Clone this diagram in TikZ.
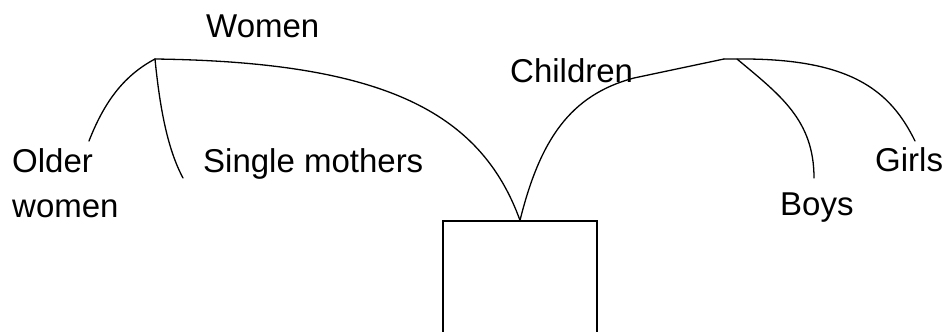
\documentclass[tikz,border=0pt]{standalone}
\usepackage{fontspec}
\setmainfont{Liberation Sans}
\begin{document}
\begin{tikzpicture}[x=1pt,y=-1pt,
  lbl/.style={inner sep=0pt, font=\fontsize{33}{45}\selectfont},
  branch/.style={line width=1.3pt, line cap=round},
  boxstyle/.style={draw, line width=1.3pt, minimum width=154pt, minimum height=179pt, inner sep=0pt}]
\useasboundingbox (0,0) rectangle (948,332);
\clip (0,0) rectangle (948,332);
% labels
\node[lbl, anchor=base west] (women) at (206,37) {Women};
\node[lbl, anchor=north west, align=left] (older) at (12,148) {Older\\women};
\node[lbl, anchor=base west] (single) at (203,172) {Single mothers};
\node[lbl, anchor=base west] (children) at (510,82) {Children};
\node[lbl, anchor=base west] (boys) at (780,215) {Boys};
\node[lbl, anchor=base west] (girls) at (875,171) {Girls};
% box
\node[boxstyle] (box) at (520,310.5) {};
% branch points and free ends
\coordinate (W) at (155,59);
\coordinate (C) at (724,59);
\coordinate (Cb) at (737,59);
\coordinate (olderend) at (89,141);
\coordinate (singleend) at (183,178);
\coordinate (boysend) at (814,178);
\coordinate (girlsend) at (915,141);
% connectors
\draw[branch] (W) .. controls (380,62) and (480,110) .. (box.north);
\draw[branch] (olderend) .. controls (105,100) and (125,75) .. (W);
\draw[branch] (W) .. controls (160,110) and (168,150) .. (singleend);
\draw[branch] (box.north) .. controls (540,140) and (570,95) .. (634,78) -- (C);
\draw[branch] (C) -- (Cb) .. controls (850,58) and (890,90) .. (girlsend);
\draw[branch] (Cb) .. controls (780,95) and (814,120) .. (boysend);
\end{tikzpicture}
\end{document}
